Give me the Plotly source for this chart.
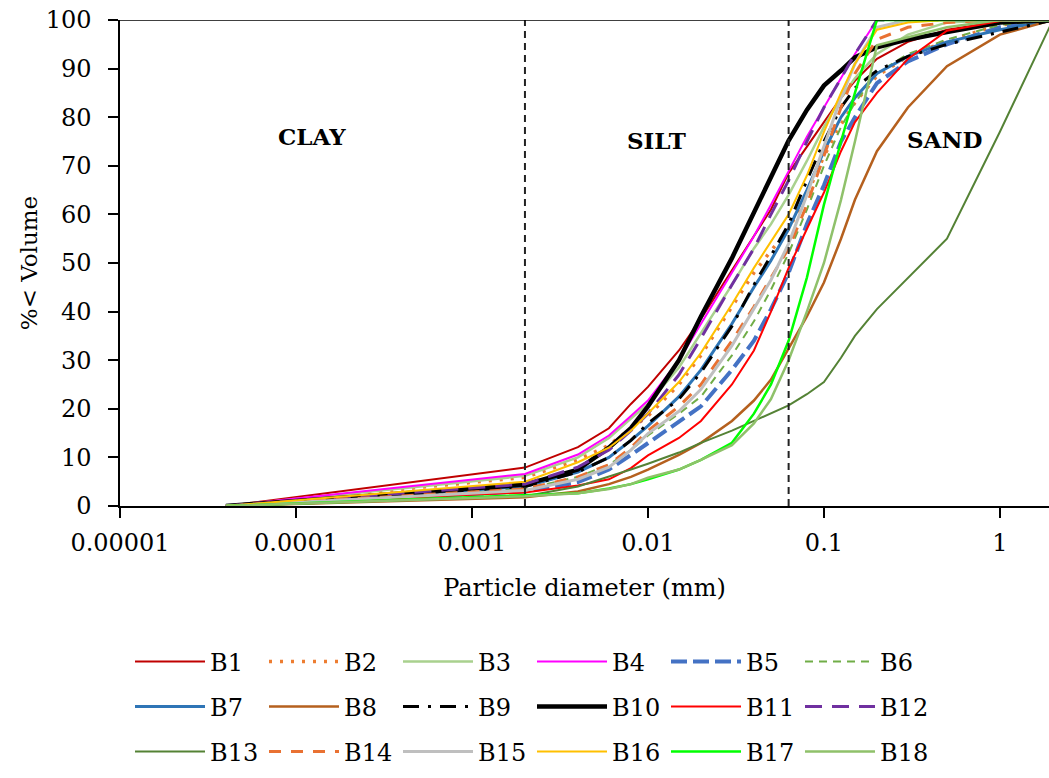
import math
import plotly.graph_objects as go

# particle diameter (mm)
diam = [0.00004, 0.002, 0.004, 0.006, 0.008, 0.01, 0.015, 0.02, 0.03, 0.04, 0.05,
        0.063, 0.08, 0.1, 0.125, 0.15, 0.2, 0.3, 0.5, 1, 2]

B1 = [0, 7.9, 12.1, 16, 21, 24.5, 32, 38.5, 48.5, 55.5, 61, 68.5, 74, 79, 84, 87.5, 92, 95.5, 98, 99.7, 100]
B2 = [0, 5.9, 9.5, 12.5, 16, 18.5, 25, 31, 41, 48, 52.5, 57, 64, 72, 78.5, 83, 88.5, 92.5, 95.7, 99, 100]
B3 = [0, 6.2, 10, 14, 18, 21, 28.5, 35.5, 45.5, 53, 58, 64, 71, 78, 84, 88, 93, 97, 99.5, 100, 100]
B4 = [0, 6.6, 10.6, 14.5, 18.5, 21.7, 30, 37.5, 48, 55.5, 62, 69, 76, 82, 88, 93, 100, 100, 100, 100, 100]
B5 = [0, 3.0, 4.9, 7.5, 10.5, 12.9, 17.5, 20.5, 28, 34, 40.5, 48, 58, 66, 75, 80, 87, 91.5, 95, 98.5, 100]
B6 = [0, 3.5, 6, 8.5, 11.5, 14.5, 19, 22.5, 31, 38, 44.5, 52, 61, 70, 78, 83, 89, 93, 96, 99, 100]
B7 = [0, 4, 7, 10, 13.5, 16.5, 22.5, 28, 37.5, 45, 50.5, 57, 65, 73, 80, 84, 89, 92.5, 95.5, 98, 100]
B8 = [0, 1.8, 3.0, 4.5, 6, 7.5, 10.5, 13, 17.5, 21.7, 26, 32.5, 39, 46, 55, 63, 73, 82, 90.5, 97, 100]
B9 = [0, 4, 7, 10, 13.5, 17, 22, 27.5, 37, 45.5, 51.5, 58, 67, 75, 82, 86, 89.6, 92.5, 95, 97.5, 100]
B10 = [0, 4.4, 7.5, 12, 16, 20.5, 30, 39, 51, 60.5, 68, 75.2, 81.5, 86.5, 89.6, 92.3, 94.4, 96, 97.5, 99.5, 100]
B11 = [0, 2.8, 4.2, 5.5, 7.8, 10.4, 14, 17.5, 25, 32, 40, 49, 57, 64.5, 73, 79, 85, 92, 97.8, 99.8, 100]
B12 = [0, 4.5, 8, 11.5, 15.5, 19, 27, 34.5, 45.5, 53, 60, 67, 75, 82, 88, 93, 100, 100, 100, 100, 100]
B13 = [0, 2.0, 4.0, 6, 7.5, 8.7, 11, 13, 15.5, 17.5, 19, 20.7, 23, 25.5, 30.5, 35, 40.5, 47, 55, 77, 100]
B14 = [0, 3.5, 6, 8.5, 12, 15.5, 20.5, 25, 34, 41, 47, 53, 62, 72, 82, 89, 96, 98.5, 99.5, 100, 100]
B15 = [0, 3.2, 5.5, 8, 11.5, 14.9, 19.5, 24, 33, 40.5, 46.5, 54, 64, 74, 84, 91, 98.5, 100, 100, 100, 100]
B16 = [0, 5, 9, 12, 15.5, 19, 25.5, 31.5, 41.5, 49, 54.5, 60, 68, 77, 85, 91, 98, 99.5, 100, 100, 100]
B17 = [0, 2.1, 2.6, 3.6, 4.5, 5.5, 7.5, 9.5, 13, 19, 25, 34, 47, 62, 75, 85, 100, 100, 100, 100, 100]
B18 = [0, 2.0, 2.6, 3.5, 4.5, 5.8, 7.5, 9.5, 12.5, 17, 22, 30, 40, 50, 63, 75, 94.8, 96.5, 98.5, 100, 100]

series = [
    ("B1", B1, "#C00000", 2, "solid"),
    ("B2", B2, "#ED7D31", 3.5, "3px,8px"),
    ("B3", B3, "#A9D18E", 2.5, "solid"),
    ("B4", B4, "#FF00FF", 2, "solid"),
    ("B5", B5, "#4472C4", 4, "16px,6px"),
    ("B6", B6, "#70AD47", 2, "8px,6px"),
    ("B7", B7, "#2E75B6", 3, "solid"),
    ("B8", B8, "#B5601E", 2.5, "solid"),
    ("B9", B9, "#000000", 3, "16px,9px,3px,9px"),
    ("B10", B10, "#000000", 4.5, "solid"),
    ("B11", B11, "#FF0000", 2, "solid"),
    ("B12", B12, "#7030A0", 3, "17px,10px"),
    ("B13", B13, "#548235", 2, "solid"),
    ("B14", B14, "#E97132", 3, "12px,10px"),
    ("B15", B15, "#BFBFBF", 3, "solid"),
    ("B16", B16, "#FFC000", 2, "solid"),
    ("B17", B17, "#00FF00", 2.5, "solid"),
    ("B18", B18, "#8FC16A", 2.5, "solid"),
]

FONT = "DejaVu Serif"
fig = go.Figure()
legend_ids = ["legend", "legend2", "legend3"]
for i, (name, vals, color, w, dash) in enumerate(series):
    fig.add_trace(go.Scatter(
        x=diam, y=vals, mode="lines", name=name,
        line=dict(color=color, width=w, dash=dash),
        legend=legend_ids[i // 6],
    ))

# boundaries clay/silt/sand
for xb in [0.002, 0.063]:
    fig.add_shape(type="line", xref="x", yref="y", x0=xb, x1=xb, y0=0, y1=100,
                  line=dict(color="#222222", width=2, dash="7px,5px"))
# top border line
fig.add_shape(type="line", xref="paper", yref="y", x0=0, x1=1, y0=100, y1=100,
              line=dict(color="#000000", width=1.5))

for txt, xa, ya in [("CLAY", 0.000123, 76), ("SILT", 0.01125, 75.2), ("SAND", 0.487, 75.4)]:
    fig.add_annotation(x=math.log10(xa), y=ya, xref="x", yref="y", text=f"<b>{txt}</b>",
                       showarrow=False, font=dict(family=FONT, size=23, color="#000000"))

legend_common = dict(orientation="h", xref="container", yref="container", xanchor="left",
                     yanchor="middle", font=dict(family=FONT, size=24, color="#000000"),
                     entrywidth=49, entrywidthmode="pixels", itemwidth=70,
                     bgcolor="rgba(0,0,0,0)", traceorder="normal")
rows_y = [662, 707, 752]
fig.update_layout(
    width=1049, height=778,
    margin=dict(l=120, r=0, t=20, b=272, pad=0),
    paper_bgcolor="white", plot_bgcolor="white",
    font=dict(family=FONT, size=24, color="#000000"),
    showlegend=True,
    legend=dict(legend_common, x=130 / 1049, y=1 - rows_y[0] / 778),
    legend2=dict(legend_common, x=130 / 1049, y=1 - rows_y[1] / 778),
    legend3=dict(legend_common, x=130 / 1049, y=1 - rows_y[2] / 778),
    xaxis=dict(type="log", range=[-5, 0.2788], showgrid=False, zeroline=False,
               showline=True, linecolor="#000000", linewidth=1.5, automargin=False,
               ticks="outside", ticklen=10, tickcolor="#000000", tickwidth=1.5,
               ticklabelstandoff=4,
               tickvals=[0.00001, 0.0001, 0.001, 0.01, 0.1, 1],
               ticktext=["0.00001", "0.0001", "0.001", "0.01", "0.1", "1"],
               tickfont=dict(family=FONT, size=24),
               title=dict(text="Particle diameter (mm)", font=dict(family=FONT, size=24), standoff=24)),
    yaxis=dict(range=[0, 100], dtick=10, showgrid=False, zeroline=False,
               showline=True, linecolor="#000000", linewidth=1.5, automargin=False,
               ticks="outside", ticklen=10, tickcolor="#000000", tickwidth=1.5,
               ticklabelstandoff=12,
               tickfont=dict(family=FONT, size=24),
               title=dict(text="%< Volume", font=dict(family=FONT, size=23), standoff=2)),
)

fig.write_html("out.html", config={"displayModeBar": False},
               post_script="document.body.style.margin='0';document.body.style.overflow='hidden';window.dispatchEvent(new Event('resize'));")
